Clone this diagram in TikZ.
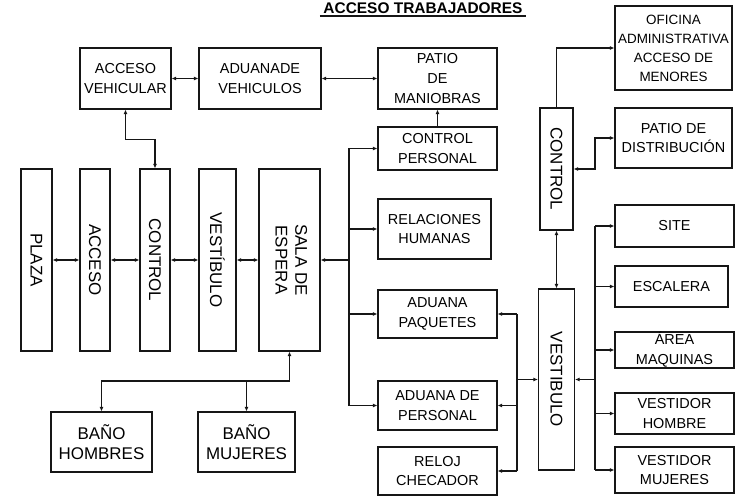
\documentclass[tikz,border=0pt]{standalone}
\usepackage{fontspec}
\setmainfont{Liberation Sans}
\usetikzlibrary{arrows.meta}
\definecolor{acsLine}{HTML}{161616}

\tikzset{
  blockBox/.style={draw=acsLine, line width=1.1bp, align=center, inner sep=0pt,
    font=\fontsize{14.5}{20}\selectfont},
  tallBox/.style={blockBox, font=\fontsize{17}{20}\selectfont},
  link/.style={draw=acsLine, line width=1.1bp},
  toArrow/.style={link, -{Latex[length=4.5bp,width=4bp]}},
  biArrow/.style={link, {Latex[length=4.5bp,width=4bp]}-{Latex[length=4.5bp,width=4bp]}}
}

\begin{document}
\begin{tikzpicture}[x=1bp, y=-1bp]

% --- PARAMETERS ---
\def\colH{182bp}        % height of the tall boxes
\def\colY{260}          % centre y of the tall boxes
\def\boxW{119bp}        % usual box width
\useasboundingbox (0,0) rectangle (740,497);

% --- TITLE ---
\node[anchor=base, font=\fontsize{15.5}{18}\selectfont\bfseries] (title)
  at (423,13.5) {ACCESO TRABAJADORES};
\draw[link, line width=1.5bp] ([yshift=-2.5bp]title.base west) -- ([yshift=-2.5bp]title.base east);

% --- TOP ROW ---
\node[blockBox, minimum width=91bp, minimum height=61bp] (accVeh) at (125.5,78.5) {ACCESO\\VEHICULAR};
\node[blockBox, minimum width=122bp, minimum height=61bp] (aduVeh) at (260,78.5) {ADUANADE\\VEHICULOS};
\node[blockBox, minimum width=\boxW, minimum height=61bp] (patioMan) at (437.5,78.5) {PATIO\\DE\\MANIOBRAS};

% --- TALL BOXES (text runs downwards) ---
\node[tallBox, minimum width=31bp, minimum height=\colH] (plaza) at (36.5,\colY) {\rotatebox{-90}{PLAZA}};
\node[tallBox, minimum width=30bp, minimum height=\colH] (acceso) at (95,\colY) {\rotatebox{-90}{ACCESO}};
\node[tallBox, minimum width=30bp, minimum height=\colH] (control) at (155,\colY) {\rotatebox{-90}{CONTROL}};
\node[tallBox, minimum width=37bp, minimum height=\colH] (vestL) at (217.5,\colY) {\rotatebox{-90}{VESTÍBULO}};
\node[tallBox, minimum width=61bp, minimum height=\colH] (sala) at (289.5,\colY)
  {\rotatebox{-90}{\begin{tabular}{@{}c@{}}SALA DE\\ESPERA\end{tabular}}};

% --- BATHROOMS ---
\node[tallBox, minimum width=101bp, minimum height=60bp] (banoH) at (101.5,442) {BAÑO\\HOMBRES};
\node[tallBox, minimum width=97bp, minimum height=60bp] (banoM) at (246.5,442) {BAÑO\\MUJERES};

% --- MIDDLE COLUMN ---
\node[blockBox, minimum width=\boxW, minimum height=43bp] (ctrlPers) at (437.5,148.5) {CONTROL\\PERSONAL};
\node[blockBox, minimum width=113bp, minimum height=60bp] (relHum) at (434.5,229) {RELACIONES\\HUMANAS};
\node[blockBox, minimum width=\boxW, minimum height=48bp] (aduPaq) at (437.5,314) {ADUANA\\PAQUETES};
\node[blockBox, minimum width=\boxW, minimum height=49bp] (aduPers) at (437.5,405.5) {ADUANA DE\\PERSONAL};
\node[blockBox, minimum width=\boxW, minimum height=48bp] (reloj) at (437.5,471) {RELOJ\\CHECADOR};

% --- RIGHT SIDE ---
\node[tallBox, minimum width=33bp, minimum height=122bp] (ctrlR) at (556.5,169) {\rotatebox{-90}{CONTROL}};
\node[tallBox, minimum width=36bp, minimum height=181bp] (vestR) at (556.5,379.5) {\rotatebox{-90}{VESTIBULO}};
\node[blockBox, minimum width=117bp, minimum height=84bp, font=\fontsize{13.5}{19}\selectfont] (oficina)
  at (673.5,48) {OFICINA\\ADMINISTRATIVA\\ACCESO DE\\MENORES};
\node[blockBox, minimum width=117bp, minimum height=60bp] (patioDist) at (673.5,138) {PATIO DE\\DISTRIBUCIÓN};
\node[blockBox, minimum width=\boxW, minimum height=42bp] (site) at (674.5,226) {SITE};
\node[blockBox, minimum width=113bp, minimum height=41bp] (escalera) at (671.5,286.5) {ESCALERA};
\node[blockBox, minimum width=\boxW, minimum height=36bp] (area) at (674.5,350) {ÁREA\\MAQUINAS};
\node[blockBox, minimum width=\boxW, minimum height=41bp] (vestH) at (674.5,413.5) {VESTIDOR\\HOMBRE};
\node[blockBox, minimum width=\boxW, minimum height=46bp] (vestM) at (674.5,470) {VESTIDOR\\MUJERES};

% --- BUS LINES ---
\coordinate (busL) at (349,0);
\coordinate (busM) at (517,0);
\coordinate (busR) at (595,0);
\coordinate (bathJ) at (289.5,381);

% --- CONNECTORS: top row ---
\draw[biArrow] (accVeh) -- (aduVeh);
\draw[biArrow] (aduVeh) -- (patioMan);
\draw[biArrow] (accVeh.south) -- ++(0,30) -| (control.north);
\draw[toArrow] (ctrlPers.north) -- (patioMan.south);

% --- CONNECTORS: tall boxes ---
\foreach \a/\b in {plaza/acceso,acceso/control,control/vestL,vestL/sala}
  \draw[biArrow] (\a) -- (\b);
\draw[biArrow] (sala.south) -- (bathJ) -| (banoH.north);
\draw[toArrow] (banoM.north |- bathJ) -- (banoM.north);

% --- CONNECTORS: left bus ---
\draw[link] (busL |- ctrlPers.west) -- (busL |- aduPers.west);
\draw[toArrow] (busL |- sala.east) -- (sala.east);
\foreach \t in {ctrlPers,relHum,aduPaq,aduPers}
  \draw[toArrow] (busL |- \t.west) -- (\t.west);

% --- CONNECTORS: middle bus ---
\draw[link] (busM |- aduPaq.east) -- (busM |- reloj.east);
\foreach \t in {aduPaq,aduPers,reloj}
  \draw[toArrow] (busM |- \t.east) -- (\t.east);
\draw[toArrow] (busM |- vestR.west) -- (vestR.west);

% --- CONNECTORS: right side ---
\draw[toArrow] (ctrlR.north) |- (oficina.west);
\draw[biArrow] (ctrlR.east) -- (busR |- ctrlR.east) |- (patioDist.west);
\draw[biArrow] (ctrlR.south) -- (vestR.north);
\draw[link] (busR |- site.west) -- (busR |- vestM.west);
\draw[toArrow] (busR |- vestR.east) -- (vestR.east);
\foreach \t in {site,escalera,area,vestH,vestM}
  \draw[toArrow] (busR |- \t.west) -- (\t.west);

\end{tikzpicture}
\end{document}
